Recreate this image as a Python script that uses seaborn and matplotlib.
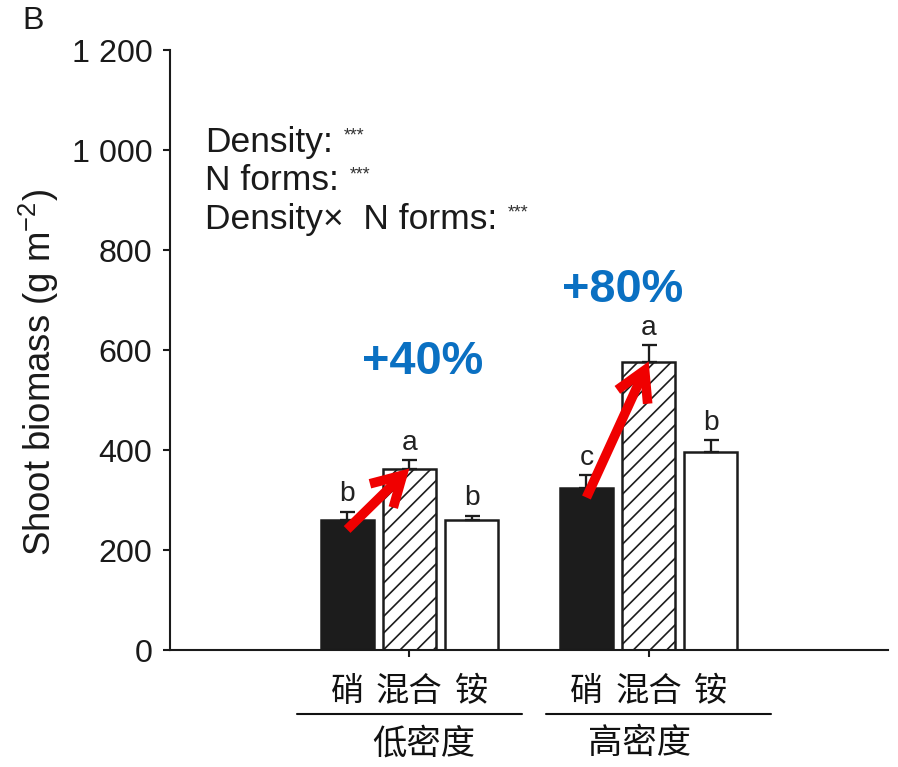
import matplotlib
matplotlib.use("Agg")
import matplotlib.pyplot as plt
from matplotlib.transforms import blended_transform_factory
import seaborn as sns
import pandas as pd

# Shoot biomass by planting density and nitrogen form
densities = ["低密度", "高密度"]
n_forms = ["硝", "混合", "铵"]
biomass_low = [261, 363, 260]
biomass_high = [325, 577, 396]
se_low = [16, 17, 9]
se_high = [25, 33, 24]
letters_low = ["b", "a", "b"]
letters_high = ["c", "a", "b"]
increase_labels = ["+40%", "+80%"]
y_ticks = [0, 200, 400, 600, 800, 1000, 1200]
y_tick_labels = ["0", "200", "400", "600", "800", "1 000", "1 200"]
stats_lines = ["Density:", "N forms:", "Density×  N forms:"]

df = pd.DataFrame({
    "density": [densities[0]] * 3 + [densities[1]] * 3,
    "form": n_forms * 2,
    "biomass": biomass_low + biomass_high,
})
errors = {densities[0]: se_low, densities[1]: se_high}
letters = {densities[0]: letters_low, densities[1]: letters_high}
values = {densities[0]: biomass_low, densities[1]: biomass_high}

sns.set_theme(style="ticks")
plt.rcParams["font.family"] = ["Liberation Sans", "Noto Sans CJK SC", "DejaVu Sans"]
plt.rcParams["mathtext.fontset"] = "custom"
plt.rcParams["mathtext.rm"] = "Liberation Sans"
plt.rcParams["mathtext.it"] = "Liberation Sans"
plt.rcParams["hatch.linewidth"] = 0.8

DPI = 150
fig = plt.figure(figsize=(898 / DPI, 767 / DPI), dpi=DPI)
ax = fig.add_axes([170 / 898, 1 - 650 / 767, 718 / 898, 600 / 767])

ink = "#1c1c1c"
sns.barplot(
    data=df, x="density", y="biomass", hue="form",
    order=densities, hue_order=n_forms,
    palette=[ink, "white", "white"], edgecolor=ink, linewidth=1.2,
    width=0.78, gap=0.15, errorbar=None, legend=False, ax=ax,
    saturation=1,
)
bar_groups = list(ax.containers)

# hatch the mixed-N bars
for bar in bar_groups[1]:
    bar.set_hatch("///")

# one-sided error bars and significance letters
centers = {}
for i, cont in enumerate(bar_groups):
    for j, bar in enumerate(cont):
        d = densities[j]
        x = bar.get_x() + bar.get_width() / 2
        y = values[d][i]
        e = errors[d][i]
        centers[(j, i)] = x
        ax.errorbar(x, y, yerr=[[0], [e]], fmt="none", ecolor=ink,
                    elinewidth=1.1, capsize=3.6, capthick=1.1, zorder=3)
        ax.annotate(letters[d][i], (x, y + e), xytext=(0, 2),
                    textcoords="offset points", ha="center", va="bottom",
                    fontsize=13.5, color="#222222")

# red arrows from nitrate to mixed bars, with the percent gain
label_offsets = [(0.055, 213), (-0.11, 143)]
for j, d in enumerate(densities):
    x0 = centers[(j, 0)]
    x1 = centers[(j, 1)]
    y0 = values[d][0] - 20
    y1 = values[d][1]
    ax.annotate("", xy=(x1, y1), xytext=(x0, y0),
                arrowprops=dict(arrowstyle="->,head_length=0.7,head_width=0.4",
                                color="#f00000", lw=4.6, mutation_scale=20,
                                shrinkA=0, shrinkB=0, capstyle="butt",
                                joinstyle="miter"),
                zorder=5)
    dx, dy = label_offsets[j]
    ax.text(j + dx, values[d][1] + dy, increase_labels[j], ha="center",
            va="center", fontsize=22.5, fontweight="bold", color="#0a70c2")

# axes styling
ax.set_xlim(-1, 2)
ax.set_ylim(0, 1200)
ax.set_yticks(y_ticks)
ax.set_yticklabels(y_tick_labels)
ax.set_xticks([0, 1])
ax.set_xticklabels(["", ""])
ax.tick_params(axis="y", length=3.5, width=1.0, pad=5, labelsize=15.5,
               colors="#1a1a1a")
ax.tick_params(axis="x", length=3.5, width=1.0, colors="#1a1a1a")
ax.set_xlabel("")
ax.set_ylabel("Shoot biomass (g m$^{-2}$)", fontsize=17.5, color="#1a1a1a")
ax.yaxis.set_label_coords(-0.152, 0.463)
for s in ["top", "right"]:
    ax.spines[s].set_visible(False)
for s in ["left", "bottom"]:
    ax.spines[s].set_linewidth(1.0)
    ax.spines[s].set_color("#1a1a1a")

# N-form labels under each bar, group rules and density labels
tr = blended_transform_factory(ax.transData, fig.transFigure)
cjk = ["Noto Sans CJK SC", "DejaVu Sans"]
for (j, i), x in centers.items():
    ax.text(x, 1 - 692 / 767, n_forms[i], transform=tr, ha="center",
            va="center", fontsize=16, family=cjk, color="#111111")
for j, d in enumerate(densities):
    ax.plot([j - 0.47 + 0.04 * j, j + 0.47 + 0.04 * j], [1 - 714 / 767] * 2,
            transform=tr, color="#111111", lw=1.0, clip_on=False)
    ax.text(j + 0.06 - 0.05 * j * 2, 1 - 744 / 767, d, transform=tr,
            ha="center", va="center", fontsize=16.5, family=cjk,
            color="#111111")

# model significance summary
for k, line in enumerate(stats_lines):
    t = ax.text(0.049, 0.846 - k * 0.064, line, transform=ax.transAxes,
                ha="left", va="center", fontsize=17, color="#1a1a1a")
    ax.annotate("***", xy=(1, 1), xycoords=t, xytext=(5, -1),
                textcoords="offset points", ha="left", va="top",
                fontsize=8.5, color="#333333")

fig.text(22 / 898, 1 - 21 / 767, "B", ha="left", va="center", fontsize=15.5,
         color="#1a1a1a")

fig.savefig("out.png", dpi=DPI)
